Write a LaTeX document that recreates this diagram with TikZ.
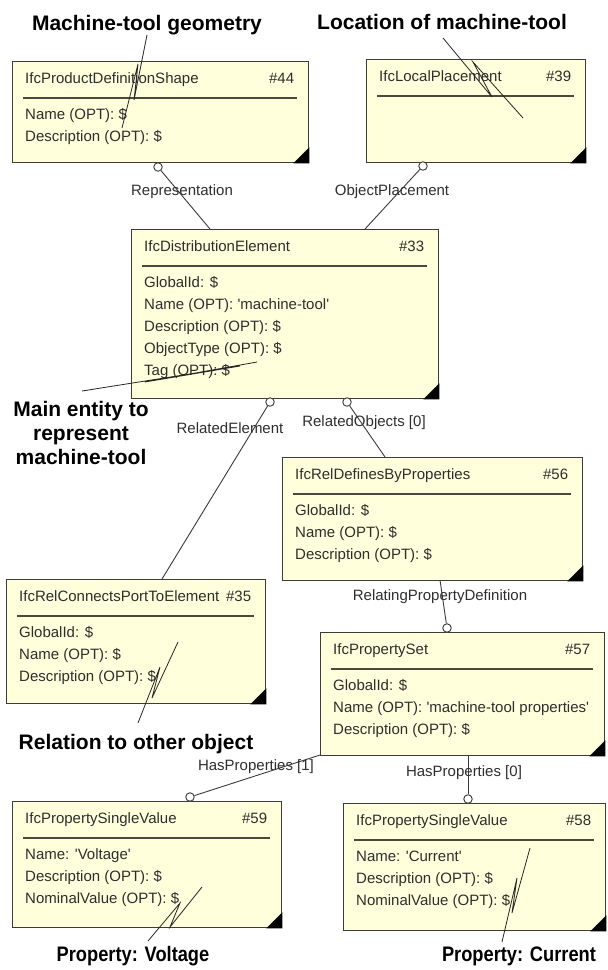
\documentclass[tikz,border=0pt]{standalone}
\usepackage{fontspec}
\usepackage{graphicx}
\setmainfont{Liberation Sans}
\usetikzlibrary{calc}

\definecolor{boxfill}{HTML}{FFFFDC}
\definecolor{boxline}{HTML}{3C3C3C}
\definecolor{sepcol}{HTML}{4A4A3C}
\definecolor{txt}{HTML}{2E2E2E}
\definecolor{linkcol}{HTML}{3A3A3A}

\tikzset{
  entity/.style={rectangle, draw=boxline, fill=boxfill, line width=1.3pt,
                 inner sep=0pt, anchor=north west},
  sepline/.style={draw=sepcol, line width=2pt},
  boxtext/.style={inner sep=0pt, text=txt, font=\fontsize{15}{18}\selectfont},
  titletext/.style={boxtext, anchor=base west},
  numtext/.style={boxtext, anchor=base east},
  attrtext/.style={boxtext, anchor=base west},
  link/.style={draw=linkcol, line width=0.9pt},
  port/.style={circle, draw=linkcol, fill=white, line width=0.9pt,
               minimum size=8.5pt, inner sep=0pt},
  rolelabel/.style={boxtext},
  callout/.style={inner sep=0pt, anchor=base, text=black,
                  font=\bfseries\fontsize{21}{24}\selectfont},
  zig/.style={draw=black!85, line width=0.8pt},
}

% entity box: name, x1, y1, x2, y2, class name, number
\newcommand{\ifchead}[7]{%
  \node[entity, minimum width={(#4-#2)*1pt}, minimum height={(#5-#3)*1pt}]
       (#1) at (#2,#3) {};
  \node[titletext] (#1-t) at ($(#1.north west)+(13,22)$) {#6};
  \node[numtext] (#1-n) at ($(#1.north east)+(-15,22)$) {\##7};
  \draw[sepline] ($(#1.north west)+(11,36.5)$) -- ($(#1.north east)+(-12,36.5)$);
  \fill (#1.south east) -- ++(-16,0) -- ++(16,-16) -- cycle;
}
% attribute lines of an entity box
\newcommand{\ifcattrs}[2]{%
  \foreach \a [count=\i from 0] in {#2} {
    \node[attrtext] (#1-a\i) at ($(#1.north west)+(13,{58+22*\i})$) {\a};
  }
}
% slightly narrowed bold caption
\newcommand{\narrowcap}[1]{\scalebox{0.87}[1]{#1}}

\begin{document}
\begin{tikzpicture}[x=1pt, y=-1pt]
\useasboundingbox (0,0) rectangle (608,970);

% ---- entities ----
\ifchead{b44}{12}{61}{308}{162}{IfcProductDefinitionShape}{44}
\ifcattrs{b44}{Name (OPT): \$, Description (OPT): \$}

\ifchead{b39}{366}{59}{585}{162}{IfcLocalPlacement}{39}

\ifchead{b33}{131}{229}{438}{398}{IfcDistributionElement}{33}
\ifcattrs{b33}{GlobalId: \$, Name (OPT): \textquotesingle machine-tool\textquotesingle,
  Description (OPT): \$, ObjectType (OPT): \$, Tag (OPT): \$}

\ifchead{b56}{282}{457}{582}{580}{IfcRelDefinesByProperties}{56}
\ifcattrs{b56}{GlobalId: \$, Name (OPT): \$, Description (OPT): \$}

\ifchead{b35}{6}{579}{265}{703}{IfcRelConnectsPortToElement}{35}
\ifcattrs{b35}{GlobalId: \$, Name (OPT): \$, Description (OPT): \$}

\ifchead{b57}{320}{632}{604}{755}{IfcPropertySet}{57}
\ifcattrs{b57}{GlobalId: \$, Name (OPT): \textquotesingle machine-tool properties\textquotesingle,
  Description (OPT): \$}

\ifchead{b59}{12}{801}{281}{927}{IfcPropertySingleValue}{59}
\ifcattrs{b59}{Name: \textquotesingle Voltage\textquotesingle, Description (OPT): \$,
  NominalValue (OPT): \$}

\ifchead{b58}{343}{803}{605}{930}{IfcPropertySingleValue}{58}
\ifcattrs{b58}{Name: \textquotesingle Current\textquotesingle, Description (OPT): \$,
  NominalValue (OPT): \$}

% ---- relationships ----
\node[port] (o1) at (158,167) {};
\coordinate (e1) at (210,229);
\draw[link] (o1) -- (e1);
\node[rolelabel] (r1) at (182,192) {Representation};

\node[port] (o2) at (423,166) {};
\coordinate (e2) at (365,229);
\draw[link] (o2) -- (e2);
\node[rolelabel] (r2) at (392,192) {ObjectPlacement};

\node[port] (o3) at (270,402) {};
\coordinate (e3) at (162,579);
\draw[link] (o3) -- (e3);
\node[rolelabel] (r3) at (230,428) {RelatedElement};

\node[port] (o4) at (347,402) {};
\coordinate (e4) at (385,457);
\draw[link] (o4) -- (e4);
\node[rolelabel] (r4) at (364,423) {RelatedObjects [0]};

\node[port] (o5) at (447,628) {};
\coordinate (e5) at (440,580);
\draw[link] (o5) -- (e5);
\node[rolelabel] (r5) at (440,597) {RelatingPropertyDefinition};

\node[port] (o6) at (190,797) {};
\coordinate (e6) at (320,755);
\draw[link] (o6) -- (e6);
\node[rolelabel] (r6) at (256,767) {HasProperties [1]};

\node[port] (o7) at (468,799) {};
\coordinate (e7) at (468,755);
\draw[link] (o7) -- (e7);
\node[rolelabel] (r7) at (464,773) {HasProperties [0]};

% ---- annotations ----
\node[callout] (cA) at (147,30) {Machine-tool geometry};
\coordinate (zA) at (147,35); \coordinate (tA) at (122,128);
\draw[zig] (zA) -- (134,100) -- (138,64) -- (tA);

\node[callout] (cB) at (442,29) {Location of machine-tool};
\coordinate (zB) at (443,38); \coordinate (tB) at (523,118);
\draw[zig] (zB) -- (492,97) -- (473,62) -- (tB);

\node[callout] (cC1) at (81,416) {Main entity to};
\node[callout] (cC2) at (81,440) {represent};
\node[callout] (cC3) at (81,464) {machine-tool};
\coordinate (zC) at (82,391); \coordinate (tC) at (257,362);
\draw[zig] (zC) -- (240,366) -- (145,382) -- (tC);

\node[callout] (cD) at (136,749) {Relation to other object};
\coordinate (zD) at (138,723); \coordinate (tD) at (178,642);
\draw[zig] (zD) -- (160,667) -- (152,698) -- (tD);

\node[callout] (cE) at (133,961) {\narrowcap{Property: Voltage}};
\coordinate (zE) at (148,941); \coordinate (tE) at (202,887);
\draw[zig] (zE) -- (180,903) -- (170,927) -- (tE);

\node[callout] (cF) at (519,961) {\narrowcap{Property: Current}};
\coordinate (zF) at (502,942); \coordinate (tF) at (530,848);
\draw[zig] (zF) -- (517,878) -- (512,913) -- (tF);
\end{tikzpicture}
\end{document}
